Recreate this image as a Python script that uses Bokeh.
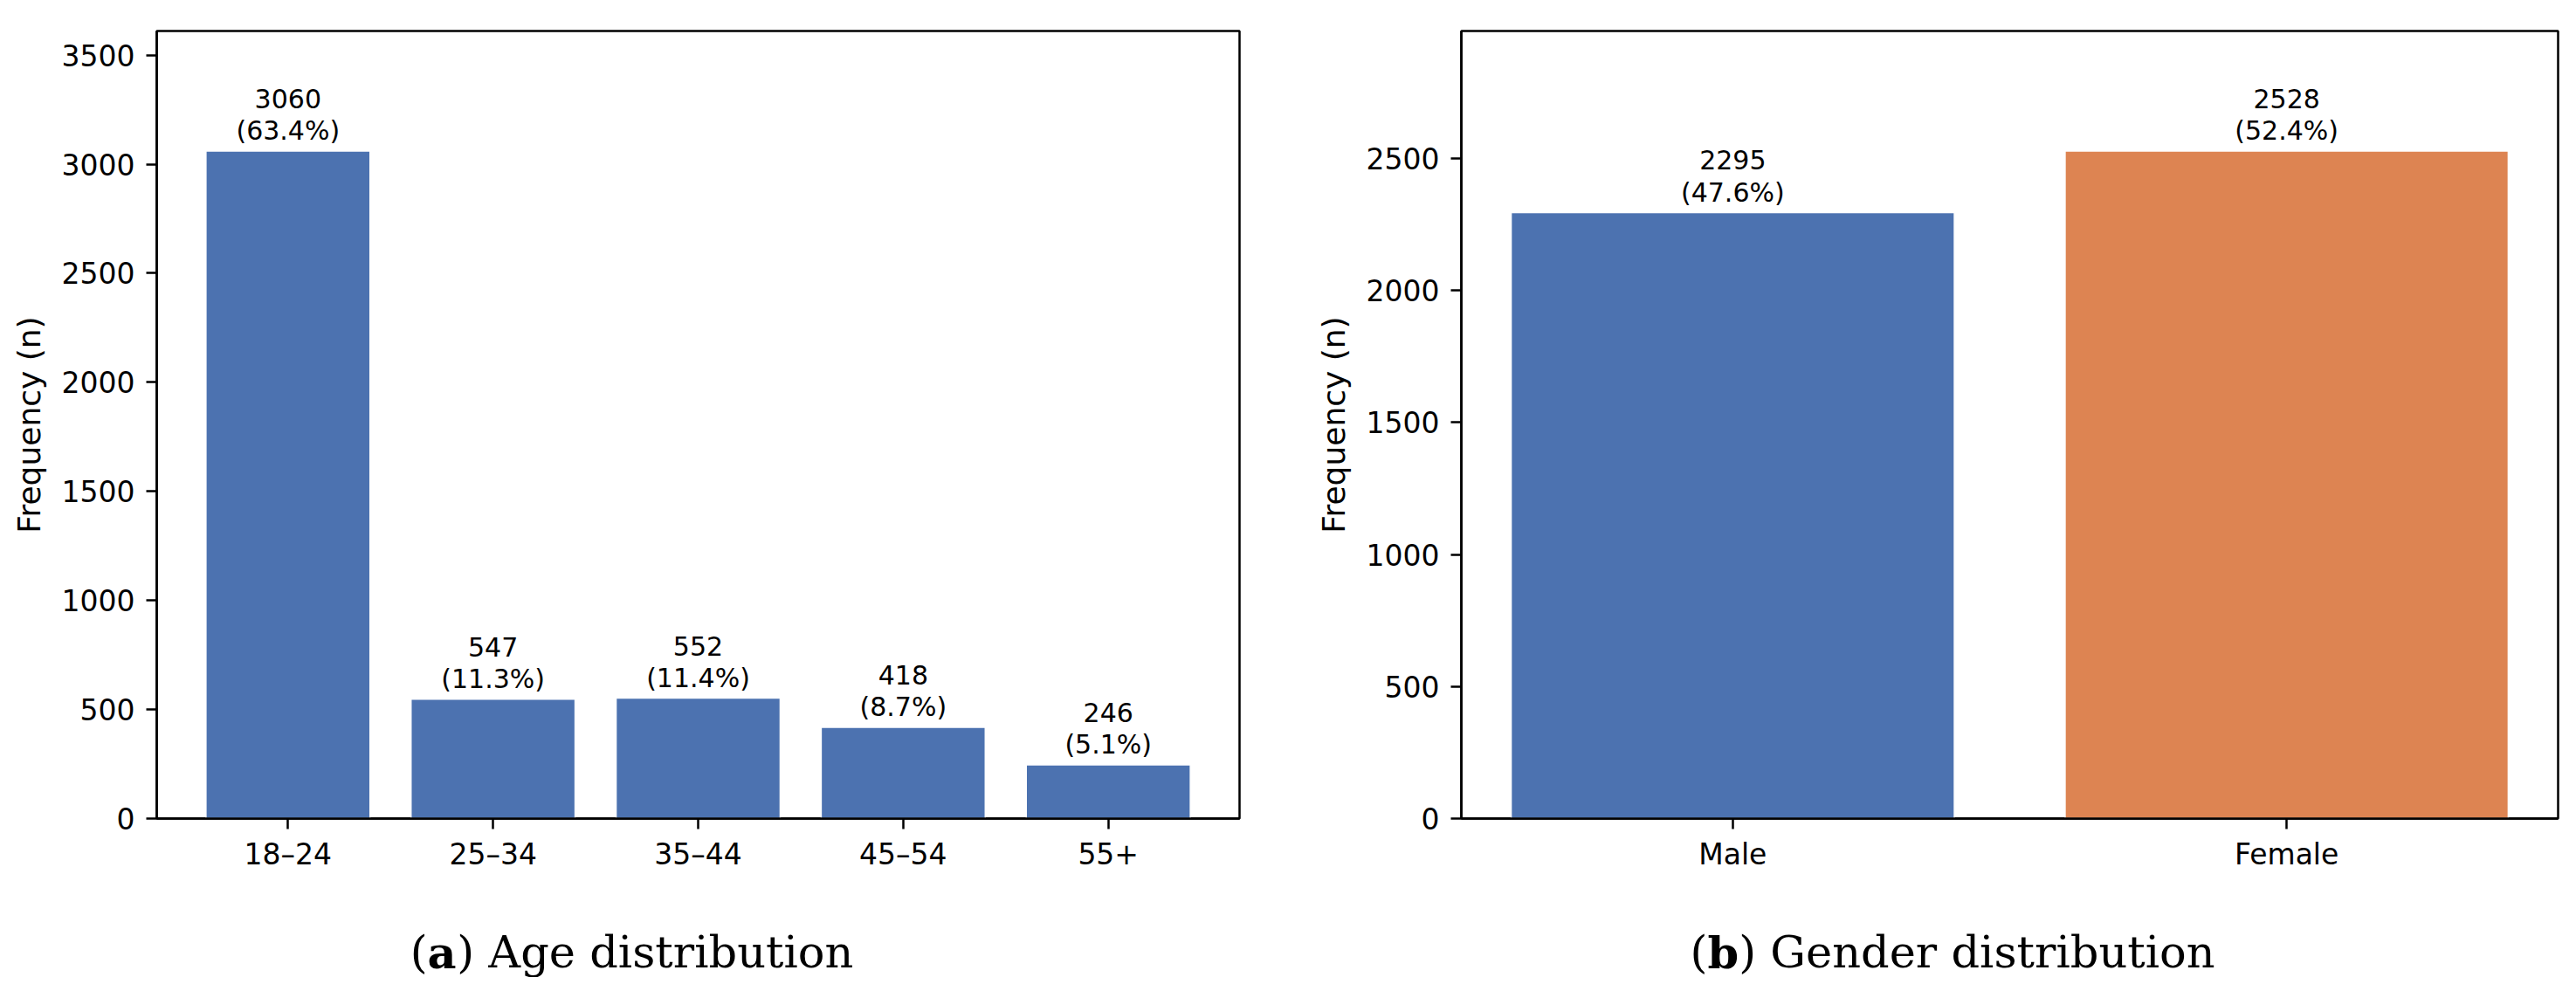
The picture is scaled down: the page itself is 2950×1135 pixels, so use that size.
from bokeh.plotting import figure
from bokeh.models import Range1d, FixedTicker, ColumnDataSource
from bokeh.layouts import row, column
from bokeh.core.properties import value
from bokeh.embed import file_html
from bokeh.resources import INLINE

# ---------------- data ----------------
age_groups = ["18\u201324", "25\u201334", "35\u201344", "45\u201354", "55+"]
age_counts = [3060, 547, 552, 418, 246]
age_pcts = [63.4, 11.3, 11.4, 8.7, 5.1]

gender_groups = ["Male", "Female"]
gender_counts = [2295, 2528]
gender_pcts = [47.6, 52.4]

age_ticks = [0, 500, 1000, 1500, 2000, 2500, 3000, 3500]
gender_ticks = [0, 500, 1000, 1500, 2000, 2500]

age_color = "#4C72B0"
gender_colors = ["#4C72B0", "#DD8452"]

caption_a = ("(", "a", ") Age distribution")
caption_b = ("(", "b", ") Gender distribution")
y_label = "Frequency (n)"

SANS = "DejaVu Sans"
SERIF = "DejaVu Serif"


def style(p, ticks, names):
    p.outline_line_color = "black"
    p.outline_line_width = 2.5
    p.xgrid.visible = False
    p.ygrid.visible = False
    p.background_fill_color = "white"
    p.border_fill_color = "white"
    for ax in (p.xaxis[0], p.yaxis[0]):
        ax.axis_line_color = "black"
        ax.axis_line_width = 2.5
        ax.major_tick_line_color = "black"
        ax.major_tick_line_width = 2.5
        ax.major_tick_in = 0
        ax.major_tick_out = 12
        ax.minor_tick_line_color = None
        ax.major_label_text_font = SANS
        ax.major_label_text_font_size = "33px"
        ax.major_label_text_color = "black"
    p.xaxis.ticker = FixedTicker(ticks=list(range(len(names))))
    p.xaxis.major_label_overrides = {i: n for i, n in enumerate(names)}
    p.xaxis.major_label_standoff = 9
    p.yaxis.ticker = FixedTicker(ticks=ticks)
    p.yaxis.major_label_standoff = 13
    p.yaxis.axis_label = y_label
    p.yaxis.axis_label_text_font = SANS
    p.yaxis.axis_label_text_font_size = "36px"
    p.yaxis.axis_label_text_font_style = "normal"
    p.yaxis.axis_label_text_color = "black"
    p.yaxis.axis_label_standoff = 14


def bars(p, names, counts, pcts, colors):
    src = ColumnDataSource(dict(
        x=list(range(len(names))),
        top=counts,
        color=colors,
        label=[f"{c}\n({q:.1f}%)" for c, q in zip(counts, pcts)],
    ))
    p.vbar(x="x", top="top", bottom=0, width=0.8, source=src,
           fill_color="color", line_color="white", line_width=1.5)
    p.text(x="x", y="top", text="label", source=src,
           text_align="center", text_baseline="bottom", y_offset=-6,
           text_font=value(SANS), text_font_size="30px",
           text_color="black", text_line_height=1.03)


ROW_H = 1005

# ---------------- left panel ----------------
n_a = len(age_groups)
pad_a = 0.05 * (n_a - 1 + 0.8)
p1 = figure(width=1440, height=ROW_H, output_backend="svg", toolbar_location=None,
            title_location=None,
            x_range=Range1d(-0.4 - pad_a, n_a - 1 + 0.4 + pad_a),
            y_range=Range1d(0, max(age_counts) * 1.18),
            min_border_left=179, min_border_right=21,
            min_border_top=35, min_border_bottom=ROW_H - 937)
style(p1, age_ticks, age_groups)
bars(p1, age_groups, age_counts, age_pcts, [age_color] * n_a)

# ---------------- right panel ----------------
n_g = len(gender_groups)
pad_g = 0.05 * (n_g - 1 + 0.8)
p2 = figure(width=1494, height=ROW_H, output_backend="svg", toolbar_location=None,
            title_location=None,
            x_range=Range1d(-0.4 - pad_g, n_g - 1 + 0.4 + pad_g),
            y_range=Range1d(0, max(gender_counts) * 1.18),
            min_border_left=233, min_border_right=5,
            min_border_top=35, min_border_bottom=ROW_H - 942)
style(p2, gender_ticks, gender_groups)
bars(p2, gender_groups, gender_counts, gender_pcts, gender_colors)

# ---------------- captions ----------------
CW, CH = 2934, 1119 - ROW_H
p3 = figure(width=CW, height=CH, output_backend="svg", toolbar_location=None,
            title_location=None,
            x_range=Range1d(0, CW), y_range=Range1d(0, CH),
            x_axis_location=None, y_axis_location=None,
            min_border=0, min_border_left=0, min_border_right=0,
            min_border_top=0, min_border_bottom=0)
p3.outline_line_color = None
p3.xgrid.visible = False
p3.ygrid.visible = False

FS = 51
# approximate advance widths (em) for DejaVu Serif
W = {"(": 0.390, ")": 0.390, " ": 0.318, "a": 0.60, "b": 0.64, "d": 0.640, "i": 0.320,
     "s": 0.513, "t": 0.402, "r": 0.478, "u": 0.644, "o": 0.602, "n": 0.644,
     "A": 0.722, "g": 0.640, "e": 0.592, "G": 0.775}
BOLD = {"a": 0.66, "b": 0.70}


def width_of(s):
    return sum(W.get(ch, 0.6) for ch in s) * FS


def caption(parts, center):
    total = width_of(parts[0]) + BOLD.get(parts[1], 0.7) * FS + width_of(parts[2])
    x0 = center - total / 2
    x1 = x0 + width_of(parts[0])
    x2 = x1 + BOLD.get(parts[1], 0.7) * FS
    base_y = CH - (1090 - ROW_H)
    kw = dict(text_align="left", text_baseline="alphabetic",
              text_font=value(SERIF), text_font_size=f"{FS}px", text_color="black")
    p3.text(x=[x0], y=[base_y], text=[parts[0]], **kw)
    p3.text(x=[x1], y=[base_y], text=[parts[1]], text_font_style="bold", **kw)
    p3.text(x=[x2], y=[base_y], text=[parts[2]], **kw)


caption(caption_a, 723)
caption(caption_b, 2235)

layout = column(row(p1, p2), p3)
open("out.html", "w").write(file_html(layout, INLINE))
